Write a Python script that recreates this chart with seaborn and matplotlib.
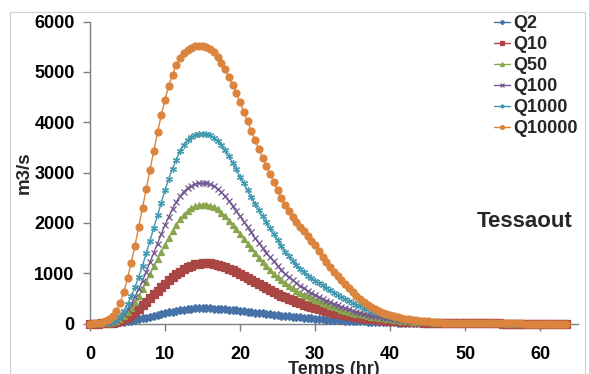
import numpy as np
import pandas as pd
import matplotlib
matplotlib.use("Agg")
import matplotlib.pyplot as plt
from matplotlib import font_manager as fm
from matplotlib.patches import Rectangle
import seaborn as sns

# time step of the hydrographs (hr)
temps = np.arange(0, 64, 0.5)

q2 = [0, 0, 0, 1, 2, 4, 8, 13, 20, 29,
      40, 53, 68, 84, 100, 117, 135, 152, 170, 188,
      205, 222, 238, 252, 265, 277, 287, 295, 300, 303,
      305, 304, 302, 298, 294, 288, 282, 275, 268, 260,
      252, 244, 235, 227, 218, 209, 200, 192, 183, 175,
      166, 158, 150, 142, 135, 127, 120, 113, 107, 101,
      95, 90, 84, 79, 74, 70, 65, 61, 57, 53,
      50, 46, 43, 40, 37, 34, 32, 29, 27, 25,
      23, 21, 19, 17, 16, 14, 13, 12, 11, 10,
      9, 8, 7, 6, 6, 5, 5, 4, 4, 3,
      3, 2, 2, 2, 2, 1, 1, 1, 1, 1,
      0, 0, 0, 0, 0, 0, 0, 0, 0, 0,
      0, 0, 0, 0, 0, 0, 0, 0]

q10 = [0, 0, 0, 1, 3, 7, 15, 30, 50, 82,
       120, 170, 225, 290, 360, 435, 510, 580, 650, 720,
       790, 855, 920, 975, 1030, 1077, 1120, 1150, 1175, 1190,
       1200, 1200, 1198, 1188, 1170, 1147, 1120, 1090, 1060, 1020,
       980, 940, 900, 860, 820, 780, 740, 700, 660, 625,
       590, 555, 520, 490, 460, 430, 400, 375, 350, 327,
       305, 285, 265, 247, 230, 212, 195, 180, 165, 152,
       140, 129, 118, 108, 98, 89, 80, 72, 65, 58,
       52, 47, 42, 37, 33, 29, 26, 23, 20, 17,
       15, 13, 11, 9, 8, 7, 6, 5, 4, 3,
       3, 2, 2, 2, 2, 1, 1, 1, 1, 1,
       0, 0, 0, 0, 0, 0, 0, 0, 0, 0,
       0, 0, 0, 0, 0, 0, 0, 0]

q50 = [0, 0, 1, 2, 5, 12, 25, 50, 90, 145,
       220, 310, 420, 545, 680, 825, 980, 1135, 1290, 1430,
       1570, 1705, 1840, 1960, 2070, 2160, 2240, 2290, 2330, 2350,
       2360, 2358, 2345, 2315, 2270, 2205, 2130, 2045, 1960, 1870,
       1780, 1685, 1590, 1495, 1400, 1310, 1220, 1140, 1060, 990,
       920, 860, 800, 750, 700, 655, 610, 575, 540, 505,
       470, 440, 410, 382, 355, 327, 300, 277, 255, 235,
       215, 197, 180, 165, 150, 136, 122, 111, 100, 90,
       80, 72, 64, 57, 50, 44, 39, 34, 30, 26,
       23, 20, 17, 15, 13, 11, 10, 8, 7, 6,
       5, 4, 4, 3, 3, 2, 2, 1, 1, 1,
       1, 0, 0, 0, 0, 0, 0, 0, 0, 0,
       0, 0, 0, 0, 0, 0, 0, 0]

q100 = [0, 0, 1, 3, 6, 14, 30, 62, 110, 185,
        280, 395, 530, 685, 850, 1030, 1220, 1405, 1590, 1775,
        1960, 2125, 2280, 2415, 2530, 2620, 2690, 2740, 2770, 2785,
        2790, 2785, 2770, 2730, 2680, 2610, 2530, 2440, 2340, 2235,
        2130, 2025, 1920, 1810, 1700, 1600, 1500, 1410, 1320, 1235,
        1150, 1070, 990, 925, 860, 805, 750, 700, 650, 610,
        570, 530, 490, 455, 420, 390, 360, 332, 305, 280,
        255, 233, 212, 193, 175, 159, 143, 129, 116, 105,
        94, 84, 75, 67, 59, 52, 46, 41, 36, 31,
        27, 23, 20, 17, 15, 13, 11, 9, 8, 7,
        6, 5, 4, 3, 3, 2, 2, 1, 1, 1,
        1, 1, 0, 0, 0, 0, 0, 0, 0, 0,
        0, 0, 0, 0, 0, 0, 0, 0]

q1000 = [0, 1, 2, 4, 8, 20, 40, 85, 150, 250,
         380, 540, 720, 925, 1150, 1395, 1650, 1900, 2150, 2400,
         2650, 2875, 3080, 3260, 3420, 3540, 3640, 3705, 3750, 3765,
         3765, 3758, 3740, 3695, 3630, 3545, 3440, 3325, 3200, 3065,
         2920, 2785, 2650, 2515, 2380, 2255, 2130, 2010, 1890, 1775,
         1660, 1545, 1430, 1335, 1240, 1160, 1080, 1015, 950, 900,
         850, 805, 760, 710, 660, 615, 570, 530, 490, 450,
         410, 375, 340, 310, 280, 252, 225, 202, 180, 160,
         140, 125, 110, 97, 85, 75, 65, 57, 50, 44,
         38, 33, 28, 24, 21, 18, 15, 13, 11, 9,
         8, 7, 6, 5, 4, 3, 3, 2, 2, 1,
         1, 1, 1, 1, 1, 0, 0, 0, 0, 0,
         0, 0, 0, 0, 0, 0, 0, 0]

q10000 = [0, 2, 5, 15, 40, 85, 150, 250, 400, 620,
          900, 1210, 1550, 1920, 2300, 2680, 3050, 3430, 3800, 4140,
          4450, 4720, 4950, 5130, 5270, 5370, 5440, 5485, 5510, 5520,
          5520, 5500, 5460, 5390, 5300, 5185, 5050, 4905, 4750, 4580,
          4400, 4210, 4020, 3830, 3640, 3470, 3300, 3140, 2980, 2815,
          2650, 2500, 2350, 2230, 2120, 2020, 1920, 1830, 1740, 1650,
          1560, 1445, 1330, 1225, 1120, 1030, 940, 860, 780, 700,
          620, 550, 480, 425, 370, 325, 280, 248, 215, 190,
          165, 145, 125, 110, 95, 83, 72, 63, 55, 47,
          40, 34, 28, 23, 18, 15, 12, 10, 8, 6,
          5, 5, 4, 3, 3, 2, 2, 2, 2, 1,
          1, 1, 1, 1, 1, 1, 0, 0, 0, 0,
          0, 0, 0, 0, 0, 0, 0, 0]

noms = ["Q2", "Q10", "Q50", "Q100", "Q1000", "Q10000"]
series = [q2, q10, q50, q100, q1000, q10000]
couleurs = ["#4572A7", "#AA4643", "#89A54E", "#71588F", "#4198AF", "#DB843D"]
marqueurs = ["D", "s", "^", "x", (6, 2, 0), "o"]
tailles = [4.0, 5.2, 5.0, 4.4, 5.0, 5.0]

sns.set_style("ticks")
plt.rcParams['font.family'] = 'Liberation Sans'

# bold Arial-like face, loaded from its file
gras = fm.findfont(fm.FontProperties(family="Liberation Sans", weight="bold"))
def police(taille):
    return fm.FontProperties(fname=gras, size=taille)

fig = plt.figure(figsize=(5.89, 3.74), dpi=100)
ax = fig.add_axes([90 / 589, 1 - 323.5 / 374, 487.5 / 589, 301.8 / 374])

for nom, vals, c, m, ms in zip(noms, series, couleurs, marqueurs, tailles):
    df = pd.DataFrame({"Temps": temps, "Q": vals})
    sns.lineplot(x="Temps", y="Q", data=df, ax=ax, color=c, marker=m,
                 markersize=ms, markeredgecolor=c, markeredgewidth=0.9,
                 linewidth=1.0, label=nom, clip_on=False, zorder=3)

ax.set_xlim(0, 65)
ax.set_ylim(0, 6000)
ax.set_xticks(range(0, 61, 10))
ax.set_yticks(range(0, 6001, 1000))
ax.set_xticklabels([str(v) for v in range(0, 61, 10)], fontproperties=police(13))
ax.set_yticklabels([str(v) for v in range(0, 6001, 1000)], fontproperties=police(13))
for s in ["top", "right"]:
    ax.spines[s].set_visible(False)
for s in ["left", "bottom"]:
    ax.spines[s].set_color("#7f7f7f")
    ax.spines[s].set_linewidth(1.0)
ax.tick_params(axis="both", colors="#7f7f7f", labelcolor="black",
               length=5, width=1)
ax.tick_params(axis="x", pad=11)
ax.tick_params(axis="y", pad=6)

ax.set_xlabel("Temps (hr)", fontproperties=police(13), labelpad=-1)
ax.set_ylabel("m3/s", fontproperties=police(13.5), labelpad=1)

ax.text(57.9, 2030, "Tessaout", fontproperties=police(16),
        ha="center", va="center")

leg = ax.legend(loc="upper left", bbox_to_anchor=(494 / 589, 1 - 15 / 374),
                bbox_transform=fig.transFigure, frameon=False,
                prop=police(13), handlelength=0.9, handletextpad=0.15,
                labelspacing=0.22, borderpad=0, borderaxespad=0,
                markerscale=0.55)

fig.patches.append(Rectangle((10 / 589, -0.1), 575 / 589, 1.1 - 11.7 / 374,
                             transform=fig.transFigure, fill=False,
                             edgecolor="#d0d0d0", linewidth=0.8))

fig.savefig("out.png", dpi=100)
